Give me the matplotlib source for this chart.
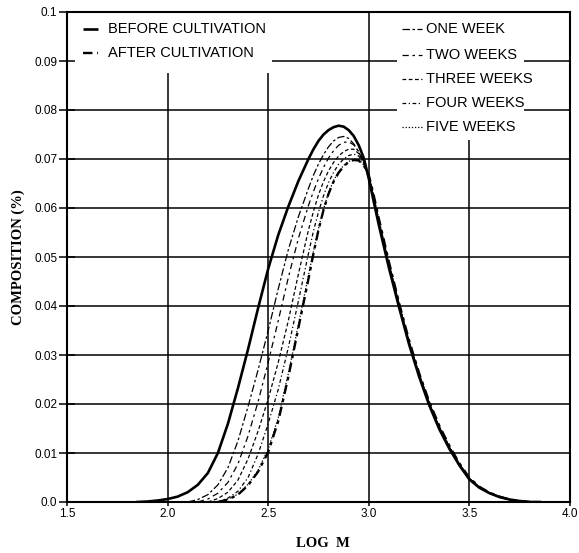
import numpy as np
import matplotlib
matplotlib.use("Agg")
import matplotlib.pyplot as plt
from matplotlib.patches import Rectangle

# Molecular weight distribution (log M) before and after cultivation
log_m = [1.85, 1.90, 1.95, 2.00, 2.05, 2.10, 2.15, 2.20, 2.25, 2.30,
         2.35, 2.40, 2.45, 2.50, 2.55, 2.60, 2.65,
         2.70, 2.725, 2.75, 2.775, 2.80, 2.825, 2.85, 2.875, 2.90, 2.925,
         2.95, 2.975, 3.00, 3.025, 3.05,
         3.10, 3.15, 3.20, 3.25, 3.30, 3.35, 3.40, 3.45, 3.50, 3.55,
         3.60, 3.65, 3.70, 3.75, 3.80, 3.85]

before = [0.0000, 0.0001, 0.0003, 0.0006, 0.0011, 0.0020, 0.0035, 0.0059, 0.0100, 0.0160,
          0.0233, 0.0312, 0.0396, 0.0476, 0.0545, 0.0603, 0.0655,
          0.0700, 0.0720, 0.0737, 0.0750, 0.0759, 0.0765, 0.0768, 0.0766, 0.0759, 0.0747,
          0.0728, 0.0702, 0.0660, 0.0612, 0.0565,
          0.0478, 0.0398, 0.0322, 0.0256, 0.0198, 0.0149, 0.0109, 0.0075, 0.0046, 0.0029,
          0.0018, 0.0010, 0.0005, 0.0002, 0.0000, 0.0000]

one_week = [None, None, None, None, None, 0.0000, 0.0005, 0.0015, 0.0035, 0.0070,
            0.0125, 0.0195, 0.0270, 0.0350, 0.0435, 0.0515, 0.0582,
            0.0640, 0.0667, 0.0690, 0.0709, 0.0725, 0.0737, 0.0744, 0.0746, 0.0742, 0.0731,
            0.0714, 0.0692, 0.0662, 0.0616, 0.0569,
            0.0481, 0.0400, 0.0324, 0.0258, 0.0200, 0.0151, 0.0111, 0.0076, 0.0047, 0.0030,
            0.0018, 0.0010, 0.0005, 0.0002, 0.0000, None]

two_weeks = [None, None, None, None, None, None, 0.0000, 0.0006, 0.0018, 0.0040,
             0.0078, 0.0135, 0.0205, 0.0285, 0.0370, 0.0458, 0.0538,
             0.0605, 0.0634, 0.0660, 0.0683, 0.0702, 0.0717, 0.0728, 0.0734, 0.0735, 0.0729,
             0.0715, 0.0695, 0.0664, 0.0618, 0.0571,
             0.0483, 0.0402, 0.0326, 0.0259, 0.0201, 0.0152, 0.0112, 0.0077, 0.0047, 0.0030,
             0.0018, 0.0011, 0.0005, 0.0002, 0.0000, None]

three_weeks = [None, None, None, None, None, None, None, 0.0000, 0.0007, 0.0020,
               0.0045, 0.0088, 0.0145, 0.0210, 0.0285, 0.0370, 0.0465,
               0.0555, 0.0593, 0.0627, 0.0654, 0.0676, 0.0693, 0.0706, 0.0715, 0.0720, 0.0720,
               0.0711, 0.0694, 0.0665, 0.0620, 0.0573,
               0.0485, 0.0404, 0.0327, 0.0260, 0.0202, 0.0153, 0.0112, 0.0077, 0.0048, 0.0030,
               0.0018, 0.0011, 0.0005, 0.0002, 0.0000, None]

four_weeks = [None, None, None, None, None, None, None, None, 0.0000, 0.0008,
              0.0022, 0.0050, 0.0098, 0.0160, 0.0230, 0.0315, 0.0410,
              0.0507, 0.0553, 0.0592, 0.0625, 0.0652, 0.0673, 0.0689, 0.0700, 0.0707, 0.0710,
              0.0706, 0.0691, 0.0666, 0.0622, 0.0575,
              0.0487, 0.0405, 0.0328, 0.0261, 0.0203, 0.0154, 0.0113, 0.0078, 0.0048, 0.0030,
              0.0019, 0.0011, 0.0005, 0.0002, 0.0000, None]

five_weeks = [None, None, None, None, None, None, None, None, 0.0000, 0.0006,
              0.0016, 0.0036, 0.0065, 0.0108, 0.0172, 0.0262, 0.0362,
              0.0462, 0.0512, 0.0558, 0.0598, 0.0631, 0.0656, 0.0674, 0.0687, 0.0695, 0.0699,
              0.0698, 0.0688, 0.0667, 0.0624, 0.0577,
              0.0489, 0.0406, 0.0329, 0.0262, 0.0204, 0.0155, 0.0114, 0.0078, 0.0049, 0.0030,
              0.0019, 0.0011, 0.0005, 0.0002, 0.0000, None]

after = [None, None, None, None, None, None, None, None, 0.0000, 0.0005,
         0.0015, 0.0034, 0.0062, 0.0102, 0.0165, 0.0255, 0.0355,
         0.0455, 0.0507, 0.0555, 0.0596, 0.0629, 0.0654, 0.0672, 0.0685, 0.0694, 0.0698,
         0.0697, 0.0687, 0.0667, 0.0625, 0.0578,
         0.0490, 0.0407, 0.0330, 0.0263, 0.0205, 0.0156, 0.0115, 0.0079, 0.0049, 0.0031,
         0.0019, 0.0011, 0.0005, 0.0002, 0.0000, None]

x_ticks = [1.5, 2.0, 2.5, 3.0, 3.5, 4.0]
x_tick_labels = ["1.5", "2.0", "2.5", "3.0", "3.5", "4.0"]
y_ticks = [0.0, 0.01, 0.02, 0.03, 0.04, 0.05, 0.06, 0.07, 0.08, 0.09, 0.1]
y_tick_labels = ["0.0", "0.01", "0.02", "0.03", "0.04", "0.05",
                 "0.06", "0.07", "0.08", "0.09", "0.1"]

SANS = ["Liberation Sans", "DejaVu Sans"]
SERIF = ["Liberation Serif", "DejaVu Serif"]

fig = plt.figure(figsize=(5.79, 5.53), dpi=100)
ax = fig.add_axes([67 / 579, 51 / 553, 503 / 579, 490 / 553])
ax.set_xlim(1.5, 4.0)
ax.set_ylim(0.0, 0.1)

# grid lines in black, beneath everything else
for xv in x_ticks[1:-1]:
    ax.axvline(xv, color="black", lw=1.1, zorder=0.5)
for yv in y_ticks[1:-1]:
    ax.axhline(yv, color="black", lw=1.1, zorder=0.5)

# curves
x = np.array(log_m, dtype=float)
def arr(v):
    return np.array([np.nan if a is None else a for a in v], dtype=float)

styles = [
    (one_week, dict(lw=0.9, dashes=(6, 2, 2, 2))),
    (two_weeks, dict(lw=0.9, dashes=(5, 3, 2, 3))),
    (three_weeks, dict(lw=0.9, dashes=(3, 2))),
    (four_weeks, dict(lw=0.9, dashes=(3, 2, 1, 2))),
    (five_weeks, dict(lw=0.9, dashes=(1, 1.5))),
    (after, dict(lw=1.7, dashes=(4, 2, 1.5, 2))),
]
for series, kw in styles:
    ax.plot(x, arr(series), color="black", zorder=2,
            solid_joinstyle="round", dash_joinstyle="round", **kw)
ax.plot(x, arr(before), color="black", lw=1.9, zorder=3, solid_joinstyle="round")

# white panels behind the key text
ax.add_patch(Rectangle((0, 0.8755), 0.4076, 0.1245, transform=ax.transAxes,
                       facecolor="white", edgecolor="none", zorder=1))
ax.add_patch(Rectangle((0.656, 0.7388), 0.2525, 0.2612, transform=ax.transAxes,
                       facecolor="white", edgecolor="none", zorder=1))

def key(x0, x1, xt, y, label, **kw):
    ax.plot([x0, x1], [y, y], transform=ax.transAxes, color="black",
            zorder=4, clip_on=False, solid_capstyle="butt", **kw)
    ax.text(xt, y, label, transform=ax.transAxes, ha="left", va="center",
            fontsize=10.5, family=SANS, zorder=4)

key(0.032, 0.062, 0.082, 0.9653, "BEFORE CULTIVATION", lw=1.9)
key(0.032, 0.062, 0.082, 0.9163, "AFTER CULTIVATION", lw=1.7, dashes=(4, 2, 1.5, 2))
right_rows = [0.9653, 0.9122, 0.8633, 0.8143, 0.7653]
right_labels = ["ONE WEEK", "TWO WEEKS", "THREE WEEKS", "FOUR WEEKS", "FIVE WEEKS"]
for (series, kw), yy, lab in zip(styles[:5], right_rows, right_labels):
    key(0.666, 0.706, 0.714, yy, lab, **kw)

# axes, ticks and labels
for s in ax.spines.values():
    s.set_linewidth(1.5)
    s.set_zorder(5)
ax.set_xticks(x_ticks)
ax.set_xticklabels(x_tick_labels, family=SANS, fontsize=8.5)
ax.set_yticks(y_ticks)
ax.set_yticklabels(y_tick_labels, family=SANS, fontsize=8.5)
ax.tick_params(axis="y", direction="inout", length=12, width=1.1, pad=1)
ax.tick_params(axis="x", direction="out", length=3, width=1.1, pad=1.5)

ax.set_ylabel("COMPOSITION (%)", family=SERIF, fontsize=10.5, fontweight="bold",
              va="center")
ax.yaxis.set_label_coords(-0.097, 0.5)
ax.set_xlabel("LOG  M", family=SERIF, fontsize=10.5, fontweight="bold", va="center")
ax.xaxis.set_label_coords(0.509, -0.0837)

fig.savefig("out.png", dpi=100, facecolor="white")
